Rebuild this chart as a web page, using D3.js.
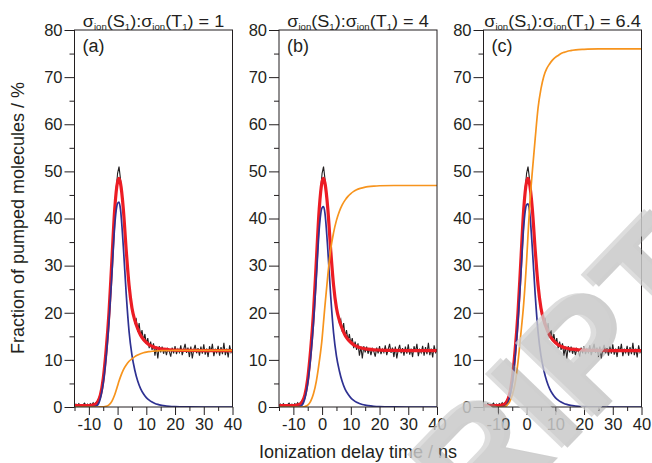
<!DOCTYPE html>
<html>
<head>
<meta charset="utf-8">
<script src="https://cdn.jsdelivr.net/npm/d3@7/dist/d3.min.js"></script>
<style>
  body { margin: 0; background: #fff; }
  text { font-family: 'Liberation Sans', Arial, sans-serif; fill: #231f20; }
</style>
</head>
<body>
<svg id="chart" width="652" height="463"></svg>
<script>
// measured signal, sampled every 0.5 ns from -15 to 40 ns
const dataStart = -15;
const dataStep = 0.5;
const measured = [
  0.3, 0.6, 0.2, 0.7, 0.4, 0.1, 0.5, 0.8, 0.3, 0.6,
  0.2, 0.7, 0.4, 0.9, 0.5, 1.0, 1.3, 1.9, 2.8, 4.1,
  6.2, 8.8, 12.4, 16.0, 20.5, 25.6, 31.3, 36.9, 42.4, 46.2,
  49.6, 51.0, 48.4, 45.6, 42.3, 38.1, 33.4, 28.2, 26.0, 22.6,
  21.4, 19.6, 17.9, 18.6, 16.0, 17.8, 14.9, 16.3, 14.1, 15.5,
  13.4, 14.6, 12.5, 13.9, 12.1, 13.5, 10.9, 12.8, 10.3, 12.9,
  11.6, 12.8, 11.3, 12.5, 11.0, 12.4, 11.8, 10.7, 12.6, 11.4,
  12.9, 11.2, 12.3, 11.6, 13.1, 11.0, 12.2, 13.4, 11.5, 12.6,
  10.6, 12.8, 10.3, 12.1, 13.2, 11.4, 12.5, 10.9, 12.8, 11.3,
  13.3, 11.1, 12.4, 10.6, 12.9, 11.7, 13.4, 10.8, 12.2, 11.5,
  13.0, 10.9, 12.7, 11.2, 13.6, 11.0, 12.4, 10.5, 13.1, 11.6,
  12.3
];

// model curves, on a shared time grid (ns)
const tFit = [-15, -10, -8, -7, -6, -5, -4, -3, -2, -1, 0, 0.5, 1, 2, 3, 4, 5, 6, 7, 8, 9, 10, 11, 12, 13, 14, 15, 16, 18, 20, 25, 30, 40];
const totalFit = [0.3, 0.3, 0.5, 1.0, 2.5, 6, 12, 20, 31, 42, 47.8, 48.5, 47.5, 42, 33.3, 25.8, 21, 18.4, 16.6, 15.2, 14.3, 13.7, 13.2, 12.9, 12.63, 12.47, 12.35, 12.27, 12.14, 12.08, 12.0, 11.97, 11.95];
const s1A = [0, 0, 0.1, 0.4, 1.8, 5, 10.5, 18, 28, 38.5, 43.2, 43.5, 42, 34, 24, 16, 11, 7.8, 5.5, 3.9, 2.8, 2.0, 1.45, 1.05, 0.75, 0.55, 0.4, 0.3, 0.15, 0.08, 0.02, 0, 0];
const s1B = [0, 0, 0.1, 0.4, 1.8, 5, 10.4, 17.8, 27.5, 37.8, 42.3, 42.5, 41.1, 33.3, 23.5, 15.7, 10.8, 7.7, 5.4, 3.8, 2.75, 1.95, 1.4, 1.0, 0.73, 0.53, 0.39, 0.29, 0.15, 0.08, 0.02, 0, 0];
const s1C = [0, 0, 0.1, 0.4, 1.8, 5, 10.5, 18, 28, 38.3, 42.9, 43.1, 41.7, 33.7, 23.8, 15.9, 10.9, 7.8, 5.5, 3.9, 2.8, 2.0, 1.45, 1.05, 0.75, 0.55, 0.4, 0.3, 0.15, 0.08, 0.02, 0, 0];
const t1A = [0, 0, 0, 0, 0.02, 0.05, 0.15, 0.45, 1.2, 2.6, 4.5, 5.5, 6.4, 7.9, 8.9, 9.7, 10.2, 10.7, 11.05, 11.3, 11.5, 11.65, 11.75, 11.83, 11.88, 11.92, 11.95, 11.97, 11.99, 12, 12, 12, 12];
const t1B = [0, 0, 0, 0, 0.1, 0.4, 1.2, 2.8, 5.5, 9.5, 14.5, 18, 21.5, 28, 33.5, 37, 39.6, 41.5, 42.9, 43.9, 44.7, 45.3, 45.75, 46.1, 46.35, 46.5, 46.65, 46.75, 46.88, 46.95, 47, 47, 47];
const t1C = [0, 0, 0, 0.3, 1, 2.5, 5, 9.5, 15.5, 22, 31, 36.5, 42, 50, 57, 63.5, 67.5, 70.2, 71.8, 72.8, 73.6, 74.2, 74.6, 75, 75.25, 75.45, 75.6, 75.7, 75.85, 75.9, 76, 76, 76];

const panelLabels = ['(a)', '(b)', '(c)'];
const ratios = ['1', '4', '6.4'];
const s1Series = [s1A, s1B, s1C];
const t1Series = [t1A, t1B, t1C];

const xTicks = [-10, 0, 10, 20, 30, 40];
const xMinor = [-15, -5, 5, 15, 25, 35];
const yTicks = [0, 10, 20, 30, 40, 50, 60, 70, 80];
const yMinor = [5, 15, 25, 35, 45, 55, 65, 75];

const svg = d3.select('#chart');
const plotTop = 30, plotBottom = 407, panelW = 158;
const lefts = [74.5, 279, 483.5];
const ink = '#231f20';

const y = d3.scaleLinear().domain([0, 80]).range([plotBottom, plotTop]);

const defs = svg.append('defs');

lefts.forEach((left, p) => {
  const x = d3.scaleLinear().domain([-15, 40]).range([left, left + panelW]);
  const g = svg.append('g');

  defs.append('clipPath').attr('id', 'clip' + p)
    .append('rect')
    .attr('x', left).attr('y', plotTop)
    .attr('width', panelW).attr('height', plotBottom - plotTop);

  const body = g.append('g').attr('clip-path', 'url(#clip' + p + ')');

  const dataLine = d3.line()
    .x((d, i) => x(dataStart + i * dataStep))
    .y((d) => y(d));
  const fitLine = d3.line()
    .x((d, i) => x(tFit[i]))
    .y((d) => y(d))
    .curve(d3.curveMonotoneX);

  body.append('path').datum(measured)
    .attr('d', dataLine)
    .attr('fill', 'none').attr('stroke', ink).attr('stroke-width', 1.1);
  body.append('path').datum(totalFit)
    .attr('d', fitLine)
    .attr('fill', 'none').attr('stroke', '#ec1c24').attr('stroke-width', 3.2)
    .attr('stroke-linejoin', 'round');
  body.append('path').datum(s1Series[p])
    .attr('d', fitLine)
    .attr('fill', 'none').attr('stroke', '#2e3192').attr('stroke-width', 1.7);
  body.append('path').datum(t1Series[p])
    .attr('d', fitLine)
    .attr('fill', 'none').attr('stroke', '#f7941d').attr('stroke-width', 1.7);

  // frame
  g.append('rect')
    .attr('x', left).attr('y', plotTop)
    .attr('width', panelW).attr('height', plotBottom - plotTop)
    .attr('fill', 'none').attr('stroke', ink).attr('stroke-width', 1);

  // axes
  g.append('g')
    .attr('transform', 'translate(' + left + ',0)')
    .call(d3.axisLeft(y).tickValues(yTicks).tickSize(10).tickPadding(2));
  g.append('g')
    .attr('transform', 'translate(' + left + ',0)')
    .call(d3.axisLeft(y).tickValues(yMinor).tickSize(5).tickFormat(''));
  g.append('g')
    .attr('transform', 'translate(0,' + plotBottom + ')')
    .call(d3.axisBottom(x).tickValues(xTicks).tickSize(8).tickPadding(3)
      .tickFormat((d) => (d < 0 ? '-' : '') + Math.abs(d)));
  g.append('g')
    .attr('transform', 'translate(0,' + plotBottom + ')')
    .call(d3.axisBottom(x).tickValues(xMinor).tickSize(4).tickFormat(''));

  g.selectAll('.domain').remove();
  g.selectAll('.tick line').attr('stroke', ink);
  g.selectAll('.tick text')
    .attr('fill', ink)
    .style('font-size', '16.5px')
    .style('font-family', "'Liberation Sans', Arial, sans-serif");

  // panel tag
  g.append('text')
    .attr('x', left + 8).attr('y', plotTop + 22)
    .style('font-size', '18px')
    .text(panelLabels[p]);

  // title with subscripts, slightly widened like the original lettering
  const title = g.append('text')
    .attr('transform', 'translate(' + (left + panelW / 2) + ',' + (plotTop - 3.5) + ') scale(1.13,1)')
    .attr('text-anchor', 'middle')
    .style('font-size', '16px');
  const parts = [
    ['σ', 0], ['ion', 1], ['(S', 0], ['1', 1], ['):σ', 0], ['ion', 1], ['(T', 0], ['1', 1], [') = ' + ratios[p], 0]
  ];
  let prevSub = 0;
  parts.forEach(([s, sub]) => {
    title.append('tspan')
      .attr('dy', sub - prevSub === 1 ? 3 : sub - prevSub === -1 ? -3 : 0)
      .style('font-size', sub ? '8.5px' : '16px')
      .text(s);
    prevSub = sub;
  });
});

// axis titles
svg.append('text')
  .attr('x', 358).attr('y', 458)
  .attr('text-anchor', 'middle')
  .style('font-size', '18px')
  .text('Ionization delay time / ns');

svg.append('text')
  .attr('transform', 'translate(24,218) rotate(-90)')
  .attr('text-anchor', 'middle')
  .style('font-size', '18px')
  .text('Fraction of pumped molecules / %');

// watermark lettering across the lower right
const wm = svg.append('g').attr('transform', 'translate(722,282) rotate(-46)');
wm.append('text')
  .attr('x', 4).attr('y', 4)
  .attr('text-anchor', 'end')
  .style('font-size', '155px')
  .style('font-weight', 'bold')
  .style('fill', '#8a8a8a')
  .style('opacity', 0.4)
  .text('MANUSCRIPT');
wm.append('text')
  .attr('text-anchor', 'end')
  .style('font-size', '155px')
  .style('font-weight', 'bold')
  .style('fill', '#d2d2d2')
  .style('opacity', 0.75)
  .text('MANUSCRIPT');
</script>
</body>
</html>
